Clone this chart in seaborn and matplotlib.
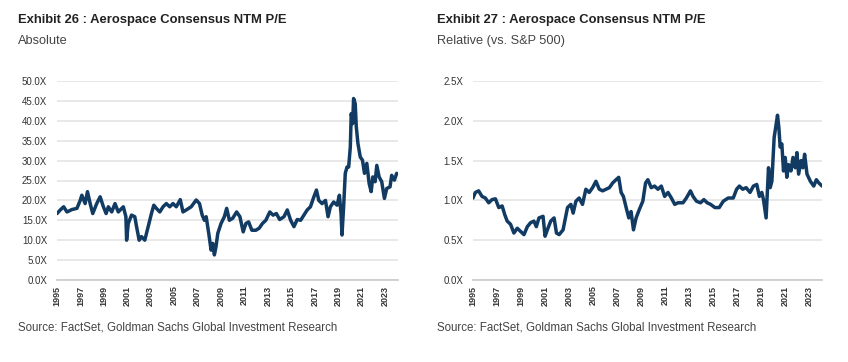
import matplotlib
matplotlib.use("Agg")
import matplotlib.pyplot as plt
import seaborn as sns
import pandas as pd

# ---- Data ----
abs_years = [1995.00, 1995.28, 1995.57, 1995.85, 1996.27, 1996.70, 1996.98, 1997.12, 1997.40, 1997.60,
             1997.83, 1998.05, 1998.39, 1998.68, 1998.96, 1999.19, 1999.38, 1999.67, 1999.95, 2000.23,
             2000.66, 2000.88, 2000.94, 2001.08, 2001.36, 2001.64, 2001.79, 2002.01, 2002.21, 2002.49,
             2002.78, 2003.06, 2003.26, 2003.48, 2003.77, 2004.05, 2004.33, 2004.62, 2004.90, 2005.18,
             2005.52, 2005.75, 2006.03, 2006.45, 2006.88, 2007.16, 2007.39, 2007.58, 2007.73, 2007.95,
             2008.15, 2008.29, 2008.43, 2008.57, 2008.72, 2009.00, 2009.28, 2009.48, 2009.71, 2009.99,
             2010.33, 2010.61, 2010.89, 2011.12, 2011.35, 2011.63, 2011.97, 2012.25, 2012.53, 2012.82,
             2013.16, 2013.44, 2013.72, 2014.00, 2014.37, 2014.65, 2014.94, 2015.22, 2015.50, 2015.79,
             2016.07, 2016.35, 2016.63, 2016.92, 2017.14, 2017.34, 2017.62, 2017.91, 2018.13, 2018.33,
             2018.61, 2018.90, 2019.10, 2019.24, 2019.32, 2019.46, 2019.60, 2019.75, 2019.89, 2020.03,
             2020.11, 2020.23, 2020.31, 2020.45, 2020.54, 2020.68, 2020.88, 2021.07, 2021.24, 2021.44,
             2021.64, 2021.81, 2021.95, 2022.15, 2022.29, 2022.49, 2022.71, 2022.94, 2023.14, 2023.42,
             2023.56, 2023.79, 2023.99]
abs_pe = [16.7, 17.6, 18.4, 17.1, 17.7, 18.0, 20.0, 21.3, 19.2, 22.2,
          19.2, 16.7, 19.2, 20.9, 18.4, 16.7, 18.4, 17.1, 19.2, 17.1,
          18.4, 15.9, 10.0, 14.2, 16.3, 15.9, 13.4, 10.0, 10.9, 10.0,
          13.4, 16.7, 18.8, 18.0, 17.1, 18.4, 19.2, 18.4, 19.2, 18.4,
          20.2, 17.1, 17.6, 18.4, 20.1, 19.2, 16.3, 15.0, 15.9, 11.7,
          7.5, 9.2, 6.3, 8.4, 11.7, 14.2, 15.9, 18.0, 15.0, 15.5,
          17.1, 15.9, 12.1, 14.2, 14.6, 12.5, 12.5, 13.0, 14.2, 15.0,
          17.1, 16.3, 16.7, 15.2, 15.9, 17.6, 15.0, 13.4, 15.2, 15.0,
          16.3, 17.6, 18.4, 20.9, 22.6, 20.0, 19.2, 20.0, 15.9, 18.4,
          19.6, 18.8, 21.3, 16.7, 11.3, 18.4, 26.8, 28.4, 28.4, 33.4,
          41.8, 39.3, 45.6, 44.3, 38.5, 34.3, 30.9, 30.1, 26.8, 29.3,
          24.2, 22.2, 25.9, 24.7, 28.8, 25.9, 24.7, 20.5, 23.0, 23.4,
          26.3, 25.1, 26.8]

rel_years = [1995.00, 1995.20, 1995.47, 1995.75, 1996.03, 1996.31, 1996.59, 1996.87, 1997.15, 1997.43,
             1997.65, 1997.85, 1998.13, 1998.41, 1998.69, 1998.97, 1999.25, 1999.53, 1999.80, 2000.08,
             2000.28, 2000.50, 2000.84, 2001.01, 2001.20, 2001.48, 2001.76, 2001.96, 2002.18, 2002.51,
             2002.88, 2003.16, 2003.35, 2003.58, 2003.85, 2004.13, 2004.41, 2004.69, 2004.97, 2005.25,
             2005.53, 2005.81, 2006.09, 2006.37, 2006.65, 2006.93, 2007.15, 2007.35, 2007.54, 2007.77,
             2007.99, 2008.18, 2008.38, 2008.60, 2008.88, 2009.16, 2009.39, 2009.58, 2009.86, 2010.14,
             2010.42, 2010.70, 2010.98, 2011.26, 2011.54, 2011.82, 2012.09, 2012.51, 2012.79, 2013.13,
             2013.35, 2013.63, 2013.97, 2014.25, 2014.53, 2014.81, 2015.17, 2015.53, 2015.87, 2016.28,
             2016.70, 2016.98, 2017.21, 2017.49, 2017.77, 2018.10, 2018.38, 2018.66, 2018.88, 2019.08,
             2019.22, 2019.44, 2019.64, 2019.78, 2019.92, 2020.11, 2020.28, 2020.39, 2020.50, 2020.61,
             2020.75, 2020.89, 2021.03, 2021.17, 2021.31, 2021.51, 2021.68, 2021.87, 2022.01, 2022.15,
             2022.35, 2022.51, 2022.65, 2022.85, 2023.13, 2023.41, 2023.63, 2023.83, 2024.11]
rel_pe = [1.03, 1.10, 1.12, 1.05, 1.03, 0.97, 1.01, 1.02, 0.91, 0.93,
          0.82, 0.74, 0.70, 0.59, 0.65, 0.61, 0.57, 0.67, 0.72, 0.74,
          0.67, 0.78, 0.80, 0.55, 0.63, 0.74, 0.78, 0.59, 0.57, 0.63,
          0.91, 0.95, 0.84, 0.99, 1.03, 0.95, 1.14, 1.10, 1.16, 1.24,
          1.14, 1.12, 1.14, 1.16, 1.22, 1.26, 1.29, 1.10, 1.05, 0.91,
          0.78, 0.86, 0.63, 0.78, 0.89, 0.99, 1.22, 1.26, 1.16, 1.18,
          1.14, 1.18, 1.05, 1.10, 1.03, 0.95, 0.97, 0.97, 1.03, 1.12,
          1.05, 0.99, 0.97, 1.01, 0.97, 0.95, 0.91, 0.91, 0.99, 1.03,
          1.03, 1.14, 1.18, 1.14, 1.16, 1.10, 1.18, 1.20, 1.05, 1.10,
          1.01, 0.78, 1.41, 1.16, 1.24, 1.79, 1.96, 2.07, 1.92, 1.67,
          1.71, 1.37, 1.54, 1.29, 1.45, 1.37, 1.54, 1.41, 1.60, 1.33,
          1.50, 1.41, 1.58, 1.33, 1.24, 1.18, 1.26, 1.22, 1.18]

tick_years = list(range(1995, 2024, 2))
abs_ticks = [0, 5, 10, 15, 20, 25, 30, 35, 40, 45, 50]
rel_ticks = [0.0, 0.5, 1.0, 1.5, 2.0, 2.5]

titles = ["Exhibit 26 : Aerospace Consensus NTM P/E", "Exhibit 27 : Aerospace Consensus NTM P/E"]
subtitles = ["Absolute", "Relative (vs. S&P 500)"]
source = "Source: FactSet, Goldman Sachs Global Investment Research"

# ---- Style ----
sns.set_theme(style="white")
plt.rcParams['font.family'] = ['Liberation Sans', 'DejaVu Sans']
LINE = "#123B63"
GRID = "#E6E6E6"
TXT = "#333333"

fig = plt.figure(figsize=(8.48, 3.62), dpi=100)
ax1 = fig.add_axes([57/848, 1-280/362, (398-57)/848, (280-81)/362])
ax2 = fig.add_axes([473/848, 1-280/362, (822-473)/848, (280-81)/362])

df_abs = pd.DataFrame({"year": abs_years, "pe": abs_pe})
df_rel = pd.DataFrame({"year": rel_years, "pe": rel_pe})

for ax, df, yt in [(ax1, df_abs, abs_ticks), (ax2, df_rel, rel_ticks)]:
    sns.lineplot(data=df, x="year", y="pe", ax=ax, color=LINE, linewidth=2.5)
    ax.set_xlim(1995, 2024.1)
    ax.set_ylim(yt[0], yt[-1])
    ax.set_yticks(yt)
    ax.set_yticklabels(["{:.1f}X".format(v) for v in yt], fontsize=7, color=TXT)
    ax.set_xticks(tick_years)
    ax.set_xticklabels([str(y) for y in tick_years], rotation=90, fontsize=6.5, color=TXT,
                       fontweight="bold")
    ax.grid(axis="y", color=GRID, linewidth=1.3)
    ax.set_axisbelow(True)
    for s in ["top", "right", "left"]:
        ax.spines[s].set_visible(False)
    ax.spines["bottom"].set_color("#CCCCCC")
    ax.tick_params(axis="x", length=2, color="#CCCCCC", pad=2)
    ax.tick_params(axis="y", length=0, pad=7)
    ax.set_xlabel("")
    ax.set_ylabel("")

for x0, t, st in [(18, titles[0], subtitles[0]), (437, titles[1], subtitles[1])]:
    fig.text(x0/848, 1-20/362, t, fontsize=9.4, fontweight="bold", color="#222222", va="center")
    fig.text(x0/848, 1-41/362, st, fontsize=9.2, color="#444444", va="center")
    fig.text(x0/848, 1-327/362, source, fontsize=8.3, color="#444444", va="center")

fig.savefig("out.png", dpi=100, facecolor="white")
